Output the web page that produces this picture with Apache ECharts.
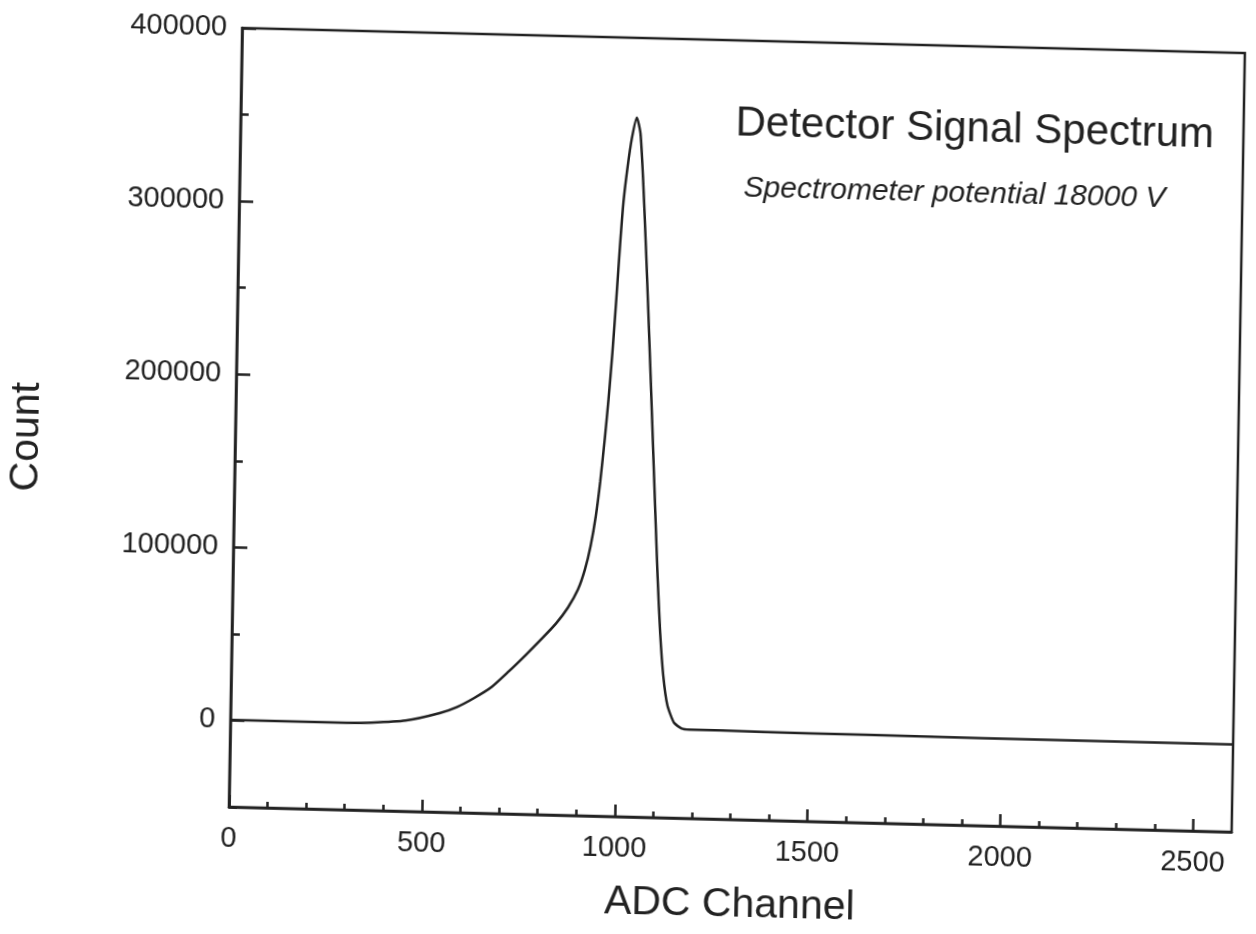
<!DOCTYPE html>
<html>
<head>
<meta charset="utf-8">
<title>Detector Signal Spectrum</title>
<script src="https://cdn.jsdelivr.net/npm/echarts@6.0.0/dist/echarts.min.js"></script>
<style>
  html, body { margin: 0; padding: 0; background: #ffffff; }
  #chart {
    width: 1256px; height: 934px;
    transform-origin: 229px 807px;
    transform: matrix(1, 0.025, -0.017, 1, 0, 0);
  }
</style>
</head>
<body>
<div id="chart"></div>
<script>
// ---- data ----
const channels = [0, 100, 224, 300, 365, 454, 542, 586, 630, 675, 719, 763, 805, 841, 870, 895, 912, 926, 938, 948, 958, 966, 974, 982, 989, 996, 1005, 1015, 1027, 1037, 1046, 1056, 1065, 1074, 1083, 1092, 1101, 1110, 1120, 1132, 1150, 1170, 1190, 1272, 1500, 1800, 2100, 2400, 2600];
const counts   = [300, 200, 200, 300, 750, 2400, 7200, 10900, 16300, 22900, 32200, 42100, 52000, 61000, 70000, 80500, 92000, 106000, 123000, 143000, 168000, 191000, 218000, 250000, 280000, 305000, 325000, 342000, 354000, 345000, 318000, 280000, 243000, 205000, 166000, 127000, 89000, 57000, 32000, 15000, 5000, 1800, 1300, 1200, 900, 700, 500, 500, 500];

const xMajorTicks = [0, 500, 1000, 1500, 2000, 2500];
const xMinorTicks = [0, 100, 200, 300, 400, 500, 600, 700, 800, 900, 1000, 1100, 1200, 1300, 1400, 1500, 1600, 1700, 1800, 1900, 2000, 2100, 2200, 2300, 2400, 2500];
const yMajorTicks = [0, 100000, 200000, 300000, 400000];
const yMinorTicks = [-50000, 0, 50000, 100000, 150000, 200000, 250000, 300000, 350000, 400000];

const titleText = 'Detector Signal Spectrum';
const subtitleText = 'Spectrometer potential 18000 V';
const xName = 'ADC Channel';
const yName = 'Count';

const seriesData = channels.map((c, i) => [c, counts[i]]);

const ink = '#222222';
const font = '"Liberation Sans", Arial, Helvetica, sans-serif';
const plain = v => String(v);

const chart = echarts.init(document.getElementById('chart'), null, { renderer: 'canvas' });
chart.setOption({
  backgroundColor: '#ffffff',
  animation: false,
  grid: {
    left: 229, top: 28, width: 1003, height: 779,
    show: true, borderColor: ink, borderWidth: 2.5, backgroundColor: 'transparent',
    outerBoundsMode: 'none'
  },
  xAxis: [
    {
      type: 'value', min: 0, max: 2600, interval: 500, position: 'bottom',
      axisLine: { show: true, onZero: false, lineStyle: { color: ink, width: 2.5 } },
      axisTick: { show: true, inside: true, length: 12, customValues: xMajorTicks, lineStyle: { color: ink, width: 2.5 } },
      axisLabel: { show: true, customValues: xMajorTicks, formatter: plain, margin: 17, fontSize: 29, color: ink, fontFamily: font },
      splitLine: { show: false }
    },
    {
      type: 'value', min: 0, max: 2600, interval: 100, position: 'bottom',
      axisLine: { show: false, onZero: false },
      axisTick: { show: true, inside: true, length: 6, customValues: xMinorTicks, lineStyle: { color: ink, width: 2.5 } },
      axisLabel: { show: false },
      splitLine: { show: false }
    }
  ],
  yAxis: [
    {
      type: 'value', min: -50000, max: 400000, interval: 50000, position: 'left',
      axisLine: { show: true, onZero: false, lineStyle: { color: ink, width: 2.5 } },
      axisTick: { show: true, inside: true, length: 14, customValues: yMajorTicks, lineStyle: { color: ink, width: 2.5 } },
      axisLabel: { show: true, customValues: yMajorTicks, formatter: plain, margin: 15, fontSize: 29, color: ink, fontFamily: font },
      splitLine: { show: false }
    },
    {
      type: 'value', min: -50000, max: 400000, interval: 50000, position: 'left',
      axisLine: { show: false, onZero: false },
      axisTick: { show: true, inside: true, length: 8, customValues: yMinorTicks, lineStyle: { color: ink, width: 2.5 } },
      axisLabel: { show: false },
      splitLine: { show: false }
    }
  ],
  graphic: [
    { type: 'text', left: 724, top: 90, style: { text: titleText, fontSize: 42, fontFamily: font, fill: ink } },
    { type: 'text', left: 733, top: 161, style: { text: subtitleText, fontSize: 30, fontStyle: 'italic', fontFamily: font, fill: ink } },
    { type: 'text', x: 21, y: 442, rotation: Math.PI / 2, style: { text: yName, fontSize: 41, fontFamily: font, fill: ink, align: 'center', verticalAlign: 'middle' } },
    { type: 'text', x: 731, y: 893, style: { text: xName, fontSize: 41, fontFamily: font, fill: ink, align: 'center', verticalAlign: 'middle' } }
  ],
  series: [
    {
      type: 'line', xAxisIndex: 0, yAxisIndex: 0,
      data: seriesData,
      smooth: 0.2,
      symbol: 'none',
      lineStyle: { color: ink, width: 2.5 }
    }
  ]
});
</script>
</body>
</html>
